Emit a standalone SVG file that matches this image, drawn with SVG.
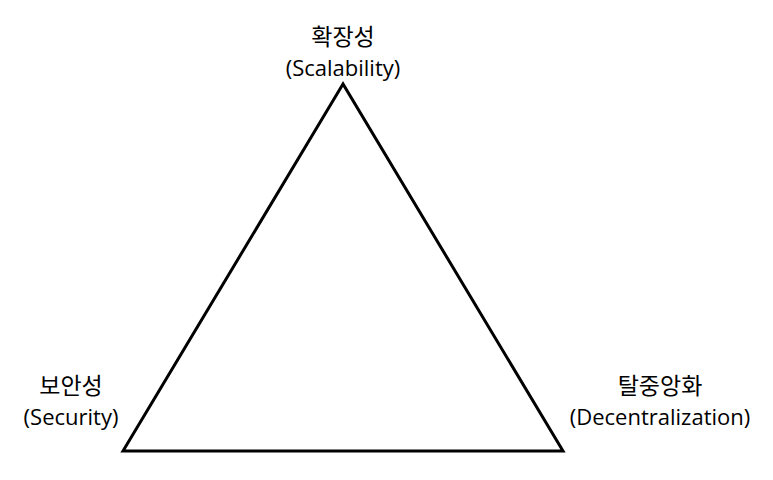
<svg xmlns="http://www.w3.org/2000/svg" width="773" height="480" viewBox="0 0 773 480">
<style>
.t{fill:#000;text-anchor:middle}
.k{font-family:"Noto Sans CJK KR",sans-serif;font-size:23px}
.e{font-family:"Open Sans","Noto Sans",sans-serif;font-size:22px}
</style>
<rect width="773" height="480" fill="#fff"/>
<g id="connectors">
<polygon points="343,84 123,451 563,451" fill="none" stroke="#000" stroke-width="3" stroke-linejoin="miter"/>
</g>
<g id="scalability">
<text class="t k" x="343" y="45">확장성</text>
<text class="t e" x="343" y="76">(Scalability)</text>
</g>
<g id="security">
<text class="t k" x="71" y="394">보안성</text>
<text class="t e" x="71" y="425">(Security)</text>
</g>
<g id="decentralization">
<text class="t k" x="660" y="394">탈중앙화</text>
<text class="t e" x="660" y="425">(Decentralization)</text>
</g>
</svg>
